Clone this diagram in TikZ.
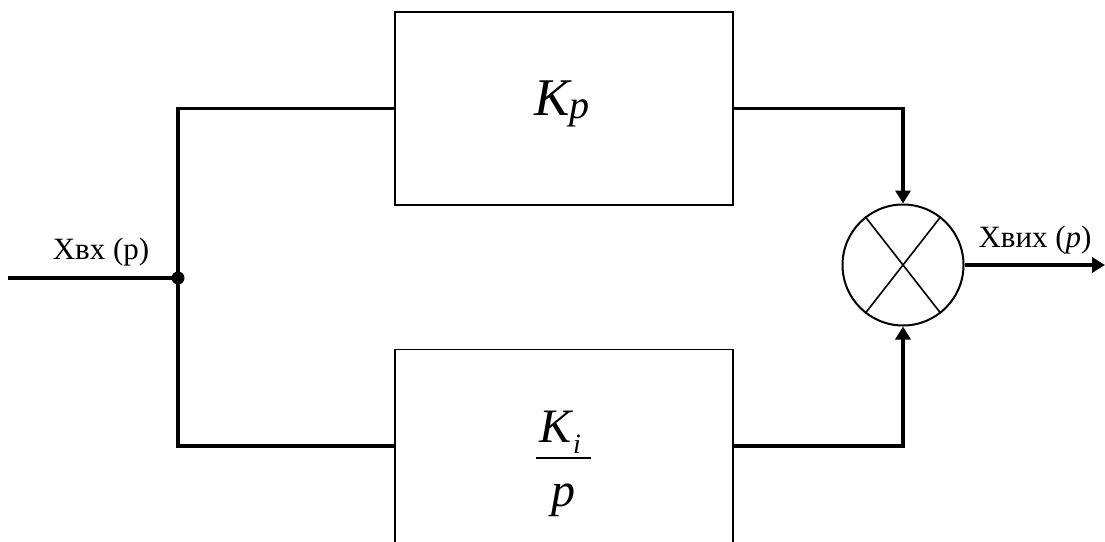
\documentclass[tikz,border=0pt]{standalone}
\usepackage{fontspec}
\setmainfont{Liberation Serif}
\newfontfamily\tms{Liberation Serif}
\usetikzlibrary{arrows.meta,positioning}
\tikzset{
  blok/.style={draw,line width=1.8pt,minimum width=338pt,minimum height=193pt,inner sep=0pt},
  zv/.style={line width=3.5pt},
  str/.style={line width=3.5pt,-{Triangle[length=13pt,width=15pt]}},
  vuzol/.style={circle,fill=black,inner sep=0pt,minimum size=13pt},
  sum/.style={circle,draw,line width=2pt,minimum size=121pt,inner sep=0pt},
  mitka/.style={font=\tms\fontsize{31}{31}\selectfont,inner sep=0pt}
}
\begin{document}
\begin{tikzpicture}[x=1pt,y=-1pt]
\useasboundingbox (0,0) rectangle (1105,541);
\clip (0,0) rectangle (1105,541);
% blocks
\node[blok] (kp) at (564,108.5) {};
\node[blok] (ki) at (564,446) {};
\node[sum] (s) at (903,265) {};
\draw[line width=1.6pt] (s.52) -- (s.232) (s.128) -- (s.308);
% block texts
\node[anchor=base,inner sep=0pt,font=\tms\fontsize{53}{53}\selectfont\itshape] (kpt) at (562,115)
  {K\raisebox{-3pt}{\fontsize{40}{40}\selectfont p}};
\node[anchor=base,inner sep=0pt,font=\tms\fontsize{48}{48}\selectfont\itshape] (kit) at (560,442)
  {K\kern2pt\raisebox{-11pt}{\fontsize{28}{28}\selectfont i}};
\draw[line width=1.5pt] (536,458) -- (591,458);
\node[anchor=base,inner sep=0pt,font=\tms\fontsize{48}{48}\selectfont\itshape] (pt) at (563.5,506) {p};
% connectors
\coordinate (vx) at (8,278);
\coordinate (v) at (178,278);
\coordinate (vyh) at (1105,265);
\draw[zv] (vx) -- (v);
\draw[zv] (kp.west) -| (v) |- (ki.west);
\node[vuzol] (vz) at (v) {};
\draw[str] (kp.east) -| (s.north);
\draw[str] (ki.east) -| (s.south);
\draw[str] (s.east) -- (vyh);
% labels
\node[mitka,anchor=base] (lvh) at (101,259) {Хвх (р)};
\node[mitka,anchor=base] (lvyh) at (1035,247) {Хвих (\textit{p})};
\end{tikzpicture}
\end{document}
